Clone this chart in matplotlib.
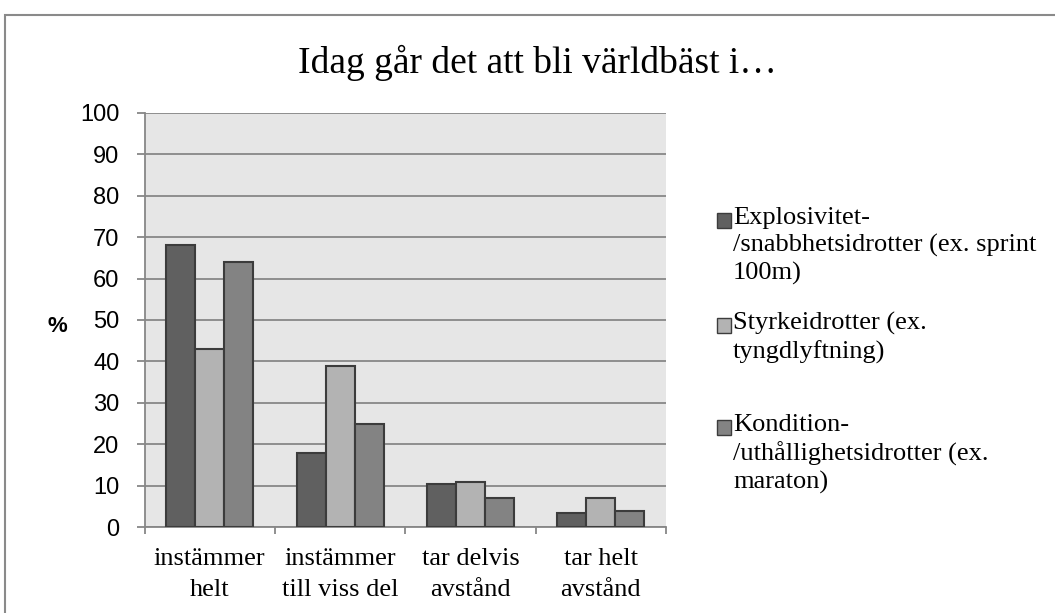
import numpy as np
import matplotlib
matplotlib.use("Agg")
import matplotlib.pyplot as plt
from matplotlib.patches import Rectangle

# Data
categories = ["instämmer\nhelt", "instämmer\ntill viss del", "tar delvis\navstånd", "tar helt\navstånd"]
series_names = ["Explosivitet-\n/snabbhetsidrotter (ex. sprint\n100m)",
                "Styrkeidrotter (ex.\ntyngdlyftning)",
                "Kondition-\n/uthållighetsidrotter (ex.\nmaraton)"]
explosivitet = [68, 18, 10.5, 3.5]
styrka = [43, 39, 11, 7]
kondition = [64, 25, 7, 4]
yticks = list(range(0, 101, 10))

colors = ["#606060", "#b3b3b3", "#838383"]
edge = "#3c3c3c"
gridc = "#878787"
serif = "Liberation Serif"
sans = "Liberation Sans"
W, H = 1055, 613

fig = plt.figure(figsize=(10.55, 6.13), dpi=100)
ax = fig.add_axes([144.5/W, 1-527.3/H, 521.5/W, 414.6/H])
ax.set_facecolor("#e6e6e6")

x = np.arange(len(categories))
w = 1/4.5
values = [explosivitet, styrka, kondition]
for i, vals in enumerate(values):
    ax.bar(x + (i-1)*w, vals, w, color=colors[i], edgecolor=edge, linewidth=1.5, zorder=3)

ax.set_xlim(-0.5, len(categories)-0.5)
ax.set_ylim(0, 100)
ax.set_yticks(yticks)
ax.set_yticklabels([str(t) for t in yticks], fontfamily=sans, fontsize=17)
ax.yaxis.grid(True, color=gridc, linewidth=1.3, zorder=0)
ax.set_axisbelow(True)

# category boundaries get the tick marks, labels sit at the centres
ax.set_xticks(np.arange(-0.5, len(categories)), minor=False)
ax.set_xticklabels([""]*(len(categories)+1))
ax.set_xticks(x, minor=True)
ax.set_xticklabels(categories, minor=True, fontfamily=serif, fontsize=19, linespacing=1.5)
ax.tick_params(axis="x", which="minor", length=0, pad=15)
ax.tick_params(axis="x", which="major", length=5, width=1.3, color=gridc)
ax.tick_params(axis="y", length=6, width=1.3, color=gridc, pad=12)

for s in ["top", "right"]:
    ax.spines[s].set_visible(False)
for s in ["left", "bottom"]:
    ax.spines[s].set_color(gridc)
    ax.spines[s].set_linewidth(1.3)

fig.text(57/W, 1-327/H, "%", fontfamily=sans, fontsize=16, fontweight="bold",
         ha="center", va="center")
fig.text(537/W, 1-73/H, "Idag går det att bli världbäst i…", fontfamily=serif,
         fontsize=27, ha="center", va="baseline")

# outer chart frame
fig.patches.append(Rectangle((5/W, -0.05), 1.1, 1-15/H+0.05, transform=fig.transFigure,
                             fill=False, edgecolor="#8a8a8a", linewidth=1.5))

# legend (first-line baselines)
legend_base = [228, 333, 435]
for i, name in enumerate(series_names):
    b = legend_base[i]
    fig.patches.append(Rectangle((717/W, 1-b/H), 14/W, 15/H, transform=fig.transFigure,
                                 facecolor=colors[i], edgecolor=edge, linewidth=1))
    fig.text(733/W, 1-(b-21)/H, name, fontfamily=serif, fontsize=19, ha="left", va="top",
             linespacing=1.28)

fig.savefig("out.png", dpi=100)
